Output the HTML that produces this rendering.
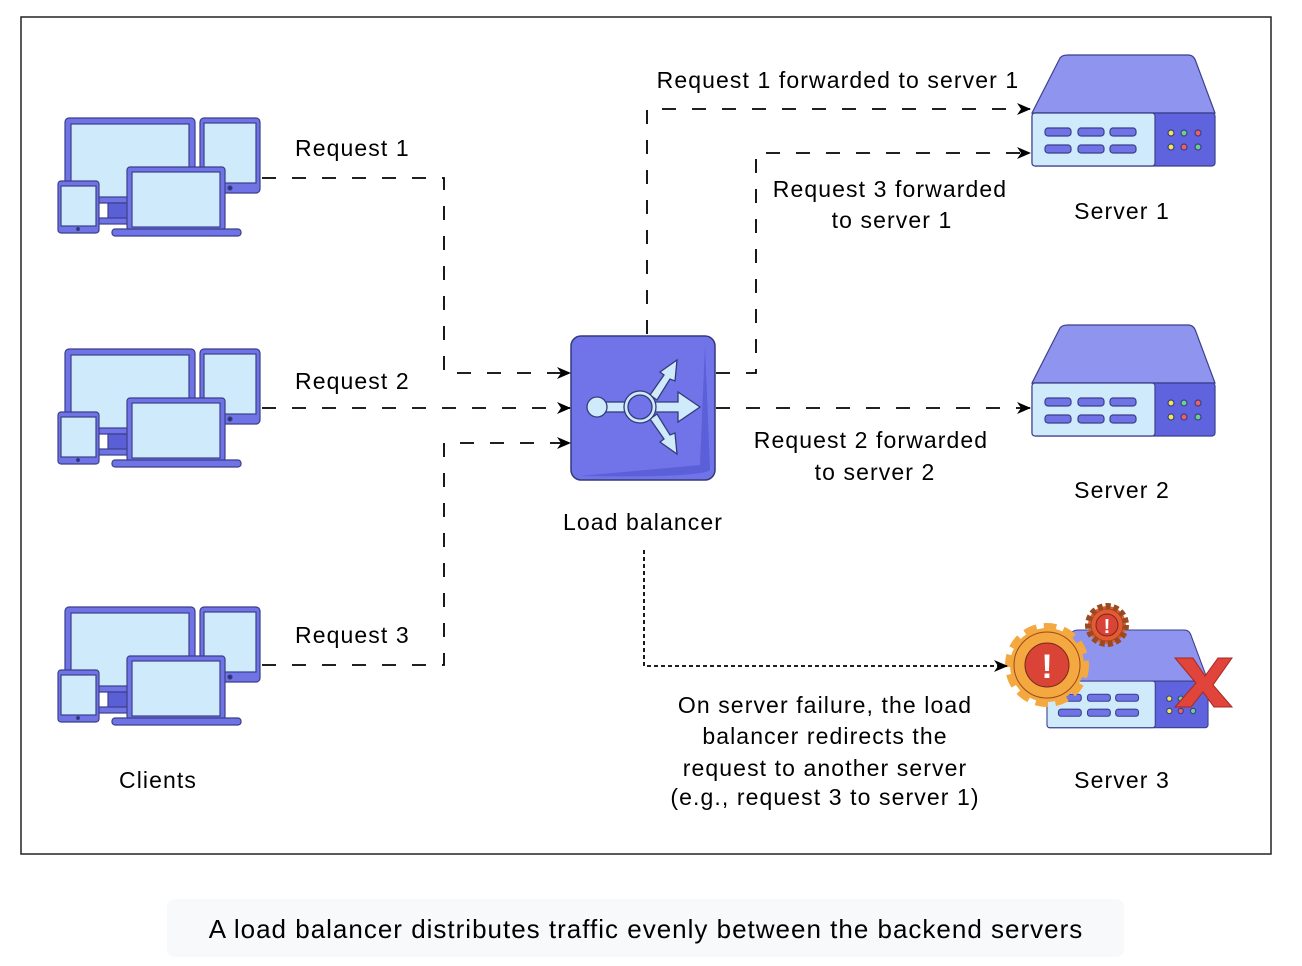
<!DOCTYPE html>
<html><head><meta charset="utf-8"><style>
html,body{margin:0;padding:0;background:#fff;}
svg{display:block;}
text{font-family:"Liberation Sans",Arial,sans-serif;fill:#000;}
</style></head><body>
<svg width="1302" height="966" viewBox="0 0 1302 966" xmlns="http://www.w3.org/2000/svg">
<defs>
<marker id="ar" markerWidth="14" markerHeight="12" refX="13" refY="6" orient="auto" markerUnits="userSpaceOnUse">
<path d="M0,0 L14,6 L0,12 L4,6 Z" fill="#000"/>
</marker>
<g id="client" stroke="#3b3f8a" stroke-width="1.2">
<rect x="15" y="8" width="130" height="85" rx="4" fill="#6f73e6"/>
<rect x="21" y="14" width="118" height="73" fill="#cfeafb"/>
<rect x="58" y="93" width="24" height="18" fill="#5b5fd6"/>
<rect x="40" y="108" width="60" height="6" fill="#6f73e6"/>
<rect x="150" y="8" width="60" height="75" rx="4" fill="#6f73e6"/>
<rect x="154" y="13" width="52" height="60" fill="#cfeafb"/>
<circle cx="180" cy="78" r="2" fill="#2b2f6a"/>
<rect x="8" y="71" width="41" height="52" rx="3" fill="#6f73e6"/>
<rect x="11" y="76" width="35" height="40" fill="#cfeafb"/>
<circle cx="28" cy="119" r="1.5" fill="#2b2f6a"/>
<rect x="77" y="57" width="98" height="63" rx="3" fill="#6f73e6"/>
<rect x="82" y="62" width="88" height="55" fill="#cfeafb"/>
<rect x="62" y="119" width="129" height="7" rx="3" fill="#6f73e6"/>
</g>
<g id="server" stroke="#3b3f8a" stroke-width="1.2">
<path d="M1060,58 Q1062,55 1068,55 L1188,55 Q1194,55 1196,62 L1215,113 L1032,113 Z" fill="#8f95ef"/>
<rect x="1032" y="113" width="183" height="53" rx="3" fill="#5f63dd"/>
<rect x="1032" y="113" width="123" height="53" rx="3" fill="#cfeafb"/>
<g fill="#6f73e6">
<rect x="1045" y="128" width="26" height="8" rx="3"/><rect x="1078" y="128" width="26" height="8" rx="3"/><rect x="1110" y="128" width="26" height="8" rx="3"/>
<rect x="1045" y="145" width="26" height="8" rx="3"/><rect x="1078" y="145" width="26" height="8" rx="3"/><rect x="1110" y="145" width="26" height="8" rx="3"/>
</g>
<circle cx="1171" cy="133" r="3" fill="#f2e84b"/><circle cx="1184" cy="133" r="3" fill="#6fd08a"/><circle cx="1198" cy="133" r="3" fill="#f06060"/>
<circle cx="1171" cy="147" r="3" fill="#f2e84b"/><circle cx="1184" cy="147" r="3" fill="#f06060"/><circle cx="1198" cy="147" r="3" fill="#6fd08a"/>
</g>
</defs>

<rect x="21" y="17" width="1250" height="837" fill="#fff" stroke="#222" stroke-width="1.5"/>

<use href="#client" transform="translate(50,110)"/>
<use href="#client" transform="translate(50,341)"/>
<use href="#client" transform="translate(50,599)"/>

<use href="#server"/>
<use href="#server" transform="translate(0,270)"/>
<g transform="translate(1047,630) scale(0.88) translate(-1032,-55)">
<use href="#server"/>
</g>

<g stroke="#9a4a20" stroke-width="1">
<circle cx="1107" cy="625" r="19" fill="#e45a33" stroke-dasharray="5 3" stroke-width="6"/>
<circle cx="1107" cy="625" r="16" fill="#e45a33"/>
<circle cx="1107" cy="625" r="11" fill="#d94436" stroke="#7a2a1a"/>
<circle cx="1047" cy="665" r="37" fill="#f4a840" stroke="#f4a840" stroke-dasharray="12 7" stroke-width="10"/>
<circle cx="1047" cy="665" r="33" fill="#f4a840"/>
<circle cx="1047" cy="665" r="22" fill="#d94436" stroke="#7a2a1a"/>
</g>
<text x="1047" y="678" font-size="34" font-weight="bold" text-anchor="middle" style="fill:#fff">!</text>
<text x="1107" y="633" font-size="20" font-weight="bold" text-anchor="middle" style="fill:#fff">!</text>
<path d="M1175,658 L1193,658 L1205,676 L1218,658 L1232,658 L1213,685 L1232,707 L1214,707 L1203,692 L1191,707 L1175,707 L1196,683 Z" fill="#e0443a" stroke="#a8281f" stroke-width="1"/>

<rect x="571" y="336" width="144" height="144" rx="10" fill="#7074e8" stroke="#333a7a" stroke-width="1.5"/>
<path d="M705,345 L710,470 Q700,478 580,476 L700,465 Z" fill="#5b5fd8"/>
<g fill="#cfeafb" stroke="#333a7a" stroke-width="1.3">
<rect x="600" y="402" width="30" height="10"/>
<path d="M650,395 L664,375 L660,372 L677,360 L675,381 L670,379 L657,400 Z"/>
<path d="M650,419 L664,439 L660,442 L677,454 L675,433 L670,435 L657,414 Z"/>
<path d="M652,402 L678,402 L678,392 L700,407 L678,422 L678,412 L652,412 Z"/>
<circle cx="597" cy="407" r="10"/>
<circle cx="640" cy="407" r="16"/>
<circle cx="640" cy="407" r="12" fill="#7074e8"/>
</g>

<g fill="none" stroke="#000" stroke-width="1.8" stroke-dasharray="14 16">
<path d="M262,178 H444 V373 H570" marker-end="url(#ar)"/>
<path d="M262,408 H570" marker-end="url(#ar)"/>
<path d="M262,665 H444 V443 H570" marker-end="url(#ar)"/>
<path d="M647,334 V109 H1030" marker-end="url(#ar)"/>
<path d="M716,373 H756 V153 H1030" marker-end="url(#ar)"/>
<path d="M716,408 H1030" marker-end="url(#ar)"/>
</g>
<path d="M644,550 V666 H1007" fill="none" stroke="#000" stroke-width="1.8" stroke-dasharray="4 3" marker-end="url(#ar)"/>

<g font-size="23" letter-spacing="1.1">
<text x="295" y="156">Request 1</text>
<text x="295" y="389">Request 2</text>
<text x="295" y="643">Request 3</text>
<text x="158" y="788" text-anchor="middle">Clients</text>
<text x="643" y="530" text-anchor="middle">Load balancer</text>
<text x="838" y="88" text-anchor="middle">Request 1 forwarded to server 1</text>
<text x="890" y="197" text-anchor="middle">Request 3 forwarded</text>
<text x="892" y="228" text-anchor="middle">to server 1</text>
<text x="871" y="448" text-anchor="middle">Request 2 forwarded</text>
<text x="875" y="480" text-anchor="middle">to server 2</text>
<text x="1122" y="219" text-anchor="middle">Server 1</text>
<text x="1122" y="498" text-anchor="middle">Server 2</text>
<text x="1122" y="788" text-anchor="middle">Server 3</text>
<text x="825" y="713" text-anchor="middle">On server failure, the load</text>
<text x="825" y="744" text-anchor="middle">balancer redirects the</text>
<text x="825" y="776" text-anchor="middle">request to another server</text>
<text x="825" y="805" text-anchor="middle">(e.g., request 3 to server 1)</text>
</g>

<rect x="167" y="899" width="957" height="58" rx="8" fill="#f8f9fa"/>
<text x="646" y="938" font-size="26" letter-spacing="1" text-anchor="middle">A load balancer distributes traffic evenly between the backend servers</text>
</svg>
</body></html>
